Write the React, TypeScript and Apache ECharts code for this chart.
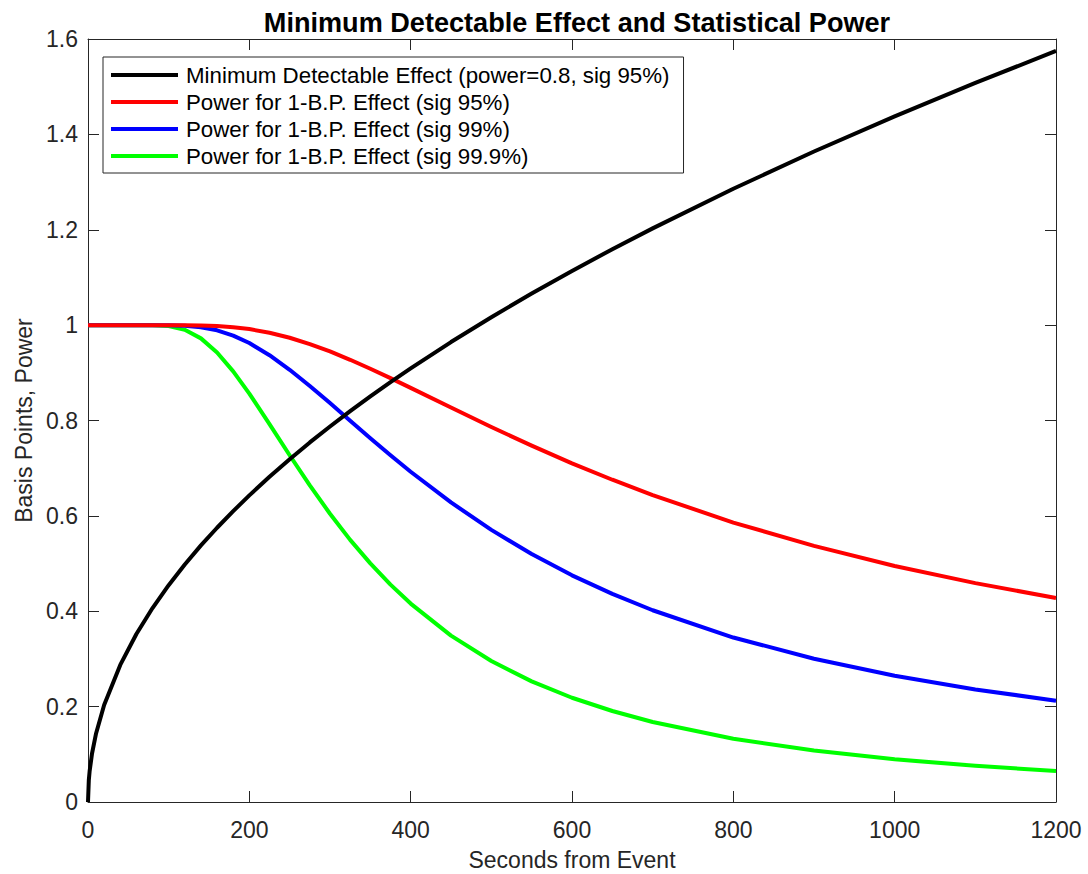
import React, { useEffect, useRef } from "react";
import * as echarts from "echarts";

const seconds = [0, 1, 2, 5, 10, 20, 40, 60, 80, 100, 120, 140, 160, 180, 200, 225, 250, 275, 300, 325, 350, 375, 400, 450, 500, 550, 600, 650, 700, 800, 900, 1000, 1100, 1200];

const mde = [0, 0.0455, 0.0643, 0.1017, 0.1438, 0.2033, 0.2875, 0.3522, 0.4067, 0.4547, 0.4981, 0.5381, 0.5751, 0.6100, 0.6430, 0.6820, 0.7189, 0.7540, 0.7875, 0.8197, 0.8506, 0.8804, 0.9093, 0.9645, 1.0166, 1.0663, 1.1137, 1.1592, 1.2029, 1.2860, 1.3640, 1.4378, 1.5079, 1.5750];

const power95 = [1, 1, 1, 1, 1, 1, 1, 1, 1, 1, 0.9999, 0.9994, 0.9982, 0.9957, 0.9917, 0.9841, 0.9735, 0.9603, 0.9448, 0.9273, 0.9086, 0.8888, 0.8684, 0.8272, 0.7864, 0.7473, 0.7102, 0.6758, 0.6436, 0.5859, 0.5371, 0.4948, 0.4590, 0.4278];

const power99 = [1, 1, 1, 1, 1, 1, 1, 1, 1, 0.9998, 0.9988, 0.9957, 0.9891, 0.9780, 0.9624, 0.9370, 0.9064, 0.8724, 0.8365, 0.7995, 0.7630, 0.7271, 0.6925, 0.6282, 0.5706, 0.5199, 0.4753, 0.4364, 0.4021, 0.3449, 0.3005, 0.2647, 0.2361, 0.2124];

const power999 = [1, 1, 1, 1, 1, 1, 1, 1, 0.9998, 0.9979, 0.9901, 0.9722, 0.9427, 0.9030, 0.8563, 0.7925, 0.7271, 0.6639, 0.6045, 0.5497, 0.5004, 0.4558, 0.4161, 0.3490, 0.2956, 0.2530, 0.2186, 0.1908, 0.1678, 0.1327, 0.1079, 0.0895, 0.0758, 0.0651];

const seriesNames = [
  "Minimum Detectable Effect (power=0.8, sig 95%)",
  "Power for 1-B.P. Effect (sig 95%)",
  "Power for 1-B.P. Effect (sig 99%)",
  "Power for 1-B.P. Effect (sig 99.9%)",
];
const seriesColors = ["#000000", "#ff0000", "#0000ff", "#00ff00"];
const seriesValues = [mde, power95, power99, power999];

const FONT = "'Liberation Sans', Arial, Helvetica, sans-serif";
const AXIS_COLOR = "#262626";

export default function App() {
  const ref = useRef<HTMLDivElement>(null);

  useEffect(() => {
    document.body.style.margin = "0";
    if (!ref.current) return;
    const chart = echarts.init(ref.current, null, { renderer: "svg" });

    const axisCommon = {
      type: "value" as const,
      axisLine: { show: true, onZero: false, lineStyle: { color: AXIS_COLOR, width: 1 } },
      axisTick: { show: true, inside: true, length: 11, lineStyle: { color: AXIS_COLOR, width: 1 } },
      splitLine: { show: false },
    };

    chart.setOption({
      animation: false,
      backgroundColor: "#ffffff",
      title: {
        text: "Minimum Detectable Effect and Statistical Power",
        left: 572,
        top: 4,
        textAlign: "center",
        textStyle: { fontFamily: FONT, fontWeight: "bold", fontSize: 27.1, color: "#000" },
      },
      grid: { left: 88, top: 39, right: 32, bottom: 72, containLabel: false, outerBoundsMode: "none" },
      legend: {
        orient: "vertical",
        left: 103,
        top: 57,
        icon: "rect",
        itemWidth: 67,
        itemHeight: 4,
        itemGap: 5,
        padding: [7, 14, 6, 8],
        borderColor: AXIS_COLOR,
        borderWidth: 1,
        backgroundColor: "#ffffff",
        textStyle: { fontFamily: FONT, fontSize: 22.3, color: "#000", lineHeight: 21, padding: [0, 0, 0, 3] },
        data: seriesNames,
      },
      xAxis: [
        {
          ...axisCommon,
          min: 0,
          max: 1200,
          interval: 200,
          name: "Seconds from Event",
          nameLocation: "middle",
          nameGap: 46,
          nameTextStyle: { fontFamily: FONT, fontSize: 23, color: AXIS_COLOR },
          axisLabel: { fontFamily: FONT, fontSize: 23, color: AXIS_COLOR, margin: 16, formatter: (v: number) => String(v) },
        },
        {
          ...axisCommon,
          position: "top",
          min: 0,
          max: 1200,
          interval: 200,
          axisLabel: { show: false },
        },
      ],
      yAxis: [
        {
          ...axisCommon,
          min: 0,
          max: 1.6,
          interval: 0.2,
          name: "Basis Points, Power",
          nameLocation: "middle",
          nameGap: 52,
          nameRotate: 90,
          nameTextStyle: { fontFamily: FONT, fontSize: 23, color: AXIS_COLOR },
          axisLabel: { fontFamily: FONT, fontSize: 23, color: AXIS_COLOR, margin: 10, formatter: (v: number) => String(Math.round(v * 10) / 10) },
        },
        {
          ...axisCommon,
          position: "right",
          min: 0,
          max: 1.6,
          interval: 0.2,
          axisLabel: { show: false },
        },
      ],
      series: seriesNames.map((name, i) => ({
        name,
        type: "line",
        xAxisIndex: 0,
        yAxisIndex: 0,
        showSymbol: false,
        symbol: "none",
        smooth: false,
        lineStyle: { color: seriesColors[i], width: 4, join: "round" },
        itemStyle: { color: seriesColors[i] },
        data: seconds.map((t, j) => [t, seriesValues[i][j]]),
        z: 2 + (3 - i),
      })),
    });

    return () => chart.dispose();
  }, []);

  return <div ref={ref} style={{ width: 1088, height: 874 }} />;
}
